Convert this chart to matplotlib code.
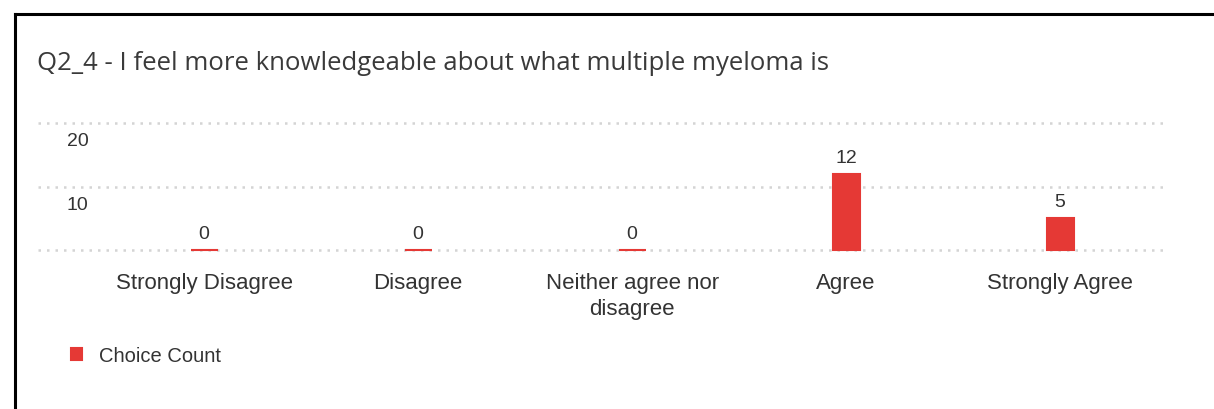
import matplotlib.pyplot as plt
from matplotlib.lines import Line2D
from matplotlib.transforms import blended_transform_factory

# survey responses
categories = ["Strongly Disagree", "Disagree", "Neither agree nor\ndisagree",
              "Agree", "Strongly Agree"]
counts = [0, 0, 0, 12, 5]
y_ticks = [10, 20]
series_name = "Choice Count"
title = "Q2_4 - I feel more knowledgeable about what multiple myeloma is"

bar_color = "#e53935"
text_color = "#333333"
grid_color = "#d4d4d4"

plt.rcParams['font.family'] = ['Liberation Sans', 'DejaVu Sans']

fig = plt.figure(figsize=(12.14, 4.09), dpi=100)
W, H = 1214, 409

# card border (top and left edges only)
fig.add_artist(Line2D([15 / W, 1], [1 - 14 / H, 1 - 14 / H], color="black", lw=2.2))
fig.add_artist(Line2D([15 / W, 15 / W], [0, 1 - 14 / H], color="black", lw=2.2))

fig.text(37 / W, 1 - 64 / H, title, fontsize=18.5, color="#3a3a3a",
         family=['Open Sans', 'DejaVu Sans'], va='center', ha='left')

# axes: gridline 0 at y=250px, 20 at y=123px
left, right = 38 / W, 1166 / W
bottom = 1 - 256.35 / H
height = 139.7 / H
ax = fig.add_axes([left, bottom, right - left, height])
ax.set_ylim(-1, 21)
ax.set_xlim(-0.776, 4.495)

x = range(len(categories))
bars = ax.bar(x, counts, width=0.126, color=bar_color, edgecolor=bar_color,
              linewidth=1.5, zorder=3, label=series_name)
ax.bar_label(bars, padding=5, fontsize=14, color=text_color)

for v in [0] + y_ticks:
    ax.axhline(v, color=grid_color, lw=1.8, ls=(0, (1, 2.4)), zorder=1)

trans = blended_transform_factory(fig.transFigure, ax.transData)
for v in y_ticks:
    ax.annotate(str(v), xy=(67 / W, v), xycoords=trans, xytext=(0, -13.5),
                textcoords='offset points', fontsize=14, color=text_color,
                ha='left', va='center')

ax.set_xticks(list(x))
ax.set_xticklabels(categories, fontsize=16, color=text_color, linespacing=1.3)
ax.tick_params(axis='x', length=0, pad=12)
ax.set_yticks([])
for s in ax.spines.values():
    s.set_visible(False)

fig.legend(handles=[bars], labels=[series_name], loc='center left',
           bbox_to_anchor=(53 / W, 1 - 356 / H), frameon=False, fontsize=14.5,
           handlelength=0.55, handleheight=0.55, handletextpad=0.85,
           labelcolor=text_color)

fig.savefig("out.png", dpi=100, facecolor="white")
